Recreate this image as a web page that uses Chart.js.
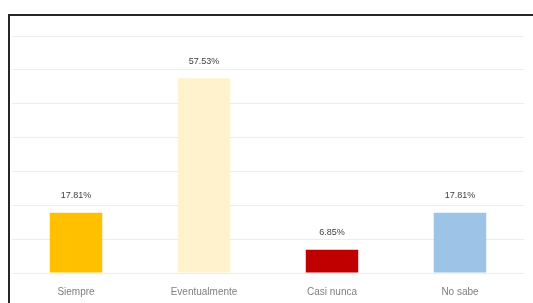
<!DOCTYPE html>
<html>
<head>
<meta charset="utf-8">
<script src="https://cdn.jsdelivr.net/npm/chart.js@4/dist/chart.umd.min.js"></script>
<style>
  html, body { margin: 0; padding: 0; background: #fff; overflow: hidden; }
  #wrap { position: relative; width: 533px; height: 303px; }
  #frame { position: absolute; left: 8px; top: 14px; width: 600px; height: 400px;
           border-top: 2px solid #262626; border-left: 2px solid #262626; }
  canvas { position: absolute; left: 0; top: 0; }
</style>
</head>
<body>
<div id="wrap">
  <div id="frame"></div>
  <canvas id="chart" width="533" height="303"></canvas>
</div>
<script>
var categories = ["Siempre", "Eventualmente", "Casi nunca", "No sabe"];
var values = [17.81, 57.53, 6.85, 17.81];
var barColors = ["#FFC000", "#FFF2CC", "#C00000", "#9DC3E6"];

// etiquetas encima de cada barra
var valueLabels = {
  id: 'valueLabels',
  afterDatasetsDraw: function(chart) {
    var ctx = chart.ctx;
    var meta = chart.getDatasetMeta(0);
    ctx.save();
    ctx.font = '9px "Liberation Sans", Arial, sans-serif';
    ctx.fillStyle = '#404040';
    ctx.textAlign = 'center';
    ctx.textBaseline = 'middle';
    meta.data.forEach(function(bar, i) {
      ctx.fillText(values[i].toFixed(2) + '%', bar.x, bar.y - 17);
    });
    ctx.restore();
  }
};

var ctx = document.getElementById("chart").getContext('2d');
var myChart = new Chart(ctx, {
  type: 'bar',
  data: {
    labels: categories,
    datasets: [{
      data: values,
      backgroundColor: barColors,
      borderWidth: 0,
      categoryPercentage: 1,
      barPercentage: 0.41
    }]
  },
  options: {
    responsive: false,
    animation: false,
    layout: { padding: { left: 12, right: 9, top: 36, bottom: 6 } },
    plugins: {
      legend: { display: false },
      tooltip: { enabled: false }
    },
    scales: {
      x: {
        grid: { display: false, drawTicks: false },
        border: { display: false },
        ticks: {
          color: '#7f7f7f',
          padding: 13,
          font: { family: '"Liberation Sans", Arial, sans-serif', size: 10 }
        },
        afterFit: function(scale) { scale.height = 24; }
      },
      y: {
        min: 0,
        max: 70,
        ticks: { display: false, stepSize: 10 },
        grid: { color: '#ececec', lineWidth: 1, drawTicks: false },
        border: { display: false },
        afterFit: function(scale) { scale.width = 0; }
      }
    }
  },
  plugins: [valueLabels]
});
</script>
</body>
</html>
